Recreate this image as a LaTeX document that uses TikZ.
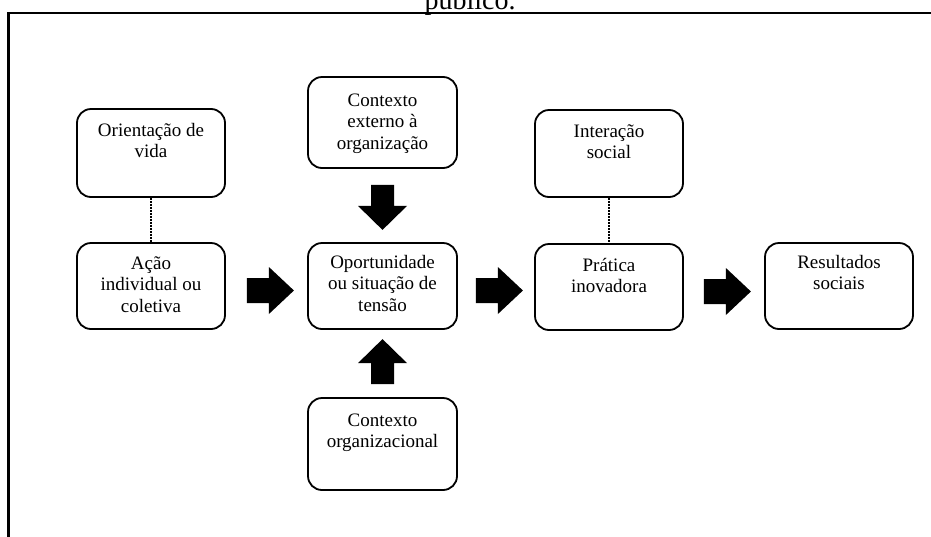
\documentclass[tikz,border=0pt]{standalone}
\usepackage{fontspec}
\setmainfont{Liberation Serif}
\usetikzlibrary{calc}
\tikzset{
  x=1pt, y=1pt,
  box/.style={draw=black, line width=1.8pt, rounded corners=14pt, minimum width=148pt, inner sep=0pt, fill=white},
  txt/.style={anchor=base, inner sep=0pt, font=\fontsize{19}{21.5}\selectfont},
  dots/.style={line width=1.6pt, dash pattern=on 1.6pt off 1.4pt},
  barrow/.pic={\fill[black] (0,-12.5) -- (22,-12.5) -- (22,-23.5) -- (47,0) -- (22,23.5) -- (22,12.5) -- (0,12.5) -- cycle;},
  varrow/.pic={\fill[black] (0,-11.5) -- (21,-11.5) -- (21,-24.5) -- (45,0) -- (21,24.5) -- (21,11.5) -- (0,11.5) -- cycle;}
}
\newcommand{\lines}[1]{\begin{tabular}[t]{@{}c@{}}#1\end{tabular}}
\begin{document}
\begin{tikzpicture}
\useasboundingbox (0,0) rectangle (931,-536);
\clip (0,0) rectangle (931,-536);
\fill[white] (0,0) rectangle (931,-536);
% caption fragment and frame
\node[anchor=base, inner sep=0pt, font=\fontsize{28}{30}\selectfont] (cap) at (470,-9) {público.};
\draw[line width=2.5pt] (8.5,-13) rectangle (980,-580);
% boxes
\node[box, minimum height=88pt] (O) at (151,-153) {};
\node[box, minimum height=86pt] (A) at (151,-286) {};
\node[box, minimum height=91pt, minimum width=149pt] (CE) at (382.5,-122.5) {};
\node[box, minimum height=86pt, minimum width=149pt] (Op) at (382.5,-286) {};
\node[box, minimum height=92pt, minimum width=149pt] (CO) at (382.5,-444) {};
\node[box, minimum height=87pt] (I) at (609,-153.5) {};
\node[box, minimum height=86pt] (P) at (609,-287) {};
\node[box, minimum height=86pt] (R) at (839,-286) {};
% texts
\node[txt] (tO) at ([yshift=-28pt]O.north) {\lines{Orientação de\\vida}};
\node[txt] (tA) at ([yshift=-27pt]A.north) {\lines{Ação\\individual ou\\coletiva}};
\node[txt] (tCE) at ([yshift=-30pt]CE.north) {\lines{Contexto\\externo à\\organização}};
\node[txt] (tOp) at ([yshift=-26pt]Op.north) {\lines{Oportunidade\\ou situação de\\tensão}};
\node[txt] (tCO) at ([yshift=-29pt]CO.north) {\lines{Contexto\\organizacional}};
\node[txt] (tI) at ([yshift=-28pt]I.north) {\lines{Interação\\social}};
\node[txt] (tP) at ([yshift=-28pt]P.north) {\lines{Prática\\inovadora}};
\node[txt] (tR) at ([yshift=-26pt]R.north) {\lines{Resultados\\sociais}};
% dotted links
\draw[dots] (O.south) -- (A.north);
\draw[dots] (I.south) -- (P.north);
% block arrows
\pic at ($(A.east)+(21,-4.5)$) {barrow};
\pic at ($(Op.east)+(18,-4.5)$) {barrow};
\pic at ($(P.east)+(20,-4.5)$) {barrow};
\pic[rotate=-90] at ($(CE.south)+(0,-16)$) {varrow};
\pic[rotate=90] at ($(CO.north)+(0,13)$) {varrow};
\end{tikzpicture}
\end{document}
